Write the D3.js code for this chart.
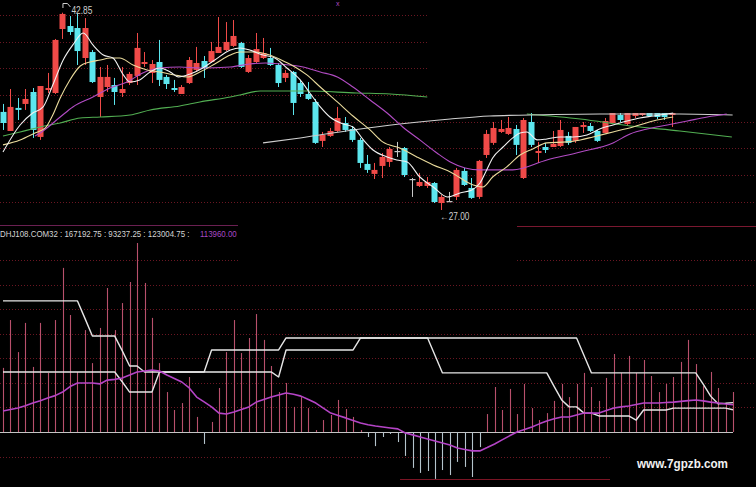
<!DOCTYPE html>
<html>
<head>
<meta charset="utf-8">
<script src="https://cdn.jsdelivr.net/npm/d3@7"></script>
<style>
  html, body { margin: 0; padding: 0; background: #000; }
  svg { display: block; }
</style>
</head>
<body>
<svg id="chart" width="756" height="487"></svg>
<script>
// ---------- price candles (one entry per session) ----------
const opens = [34.88,33.35,35.20,35.52,36.48,32.87,36.64,36.40,41.54,41.78,
  41.62,39.21,39.69,36.08,36.88,37.04,36.40,37.20,37.77,38.73,
  38.01,38.89,37.69,36.80,36.32,37.20,38.25,38.97,38.89,39.61,
  39.85,40.18,40.42,38.09,38.89,39.21,39.21,38.65,37.61,38.09,
  37.20,36.32,35.68,32.55,32.95,33.35,33.99,33.51,32.63,30.70,
  29.90,30.54,30.86,31.74,31.98,29.49,28.93,28.93,29.17,27.56,
  27.72,28.05,30.14,28.77,28.05,31.42,32.39,33.27,33.11,33.51,
  29.57,34.07,31.58,32.06,32.06,32.14,32.95,32.55,33.67,33.75,
  33.35,33.19,33.99,34.63,33.91,34.55,34.63,34.79,34.79,34.79,34.63];
const highs = [35.52,36.72,36.00,36.72,36.80,36.96,38.01,40.74,42.85,42.58,
  42.75,42.42,39.85,38.49,38.65,37.61,38.49,38.09,41.22,39.69,
  39.05,40.66,37.85,37.45,37.04,39.29,40.10,39.37,40.50,42.50,
  42.10,42.26,40.50,39.45,41.22,40.82,40.02,38.81,38.25,38.17,
  37.45,37.28,35.92,33.27,33.59,35.28,34.47,33.75,32.79,31.42,
  30.78,31.58,32.06,32.47,32.06,29.57,29.98,29.65,29.25,28.21,
  28.45,30.38,30.38,29.57,31.02,33.43,34.07,34.23,34.47,33.83,
  34.39,34.79,32.47,32.39,33.35,34.23,33.27,33.67,34.07,33.99,
  33.43,34.39,34.79,34.79,34.79,34.79,34.79,34.79,34.79,34.79,34.79];
const lows = [33.43,33.35,34.23,35.04,32.79,32.63,36.40,36.32,40.74,41.06,
  38.65,38.65,37.20,34.47,36.48,35.44,36.08,37.04,37.04,38.49,
  37.20,36.96,36.72,36.48,36.32,37.12,38.09,37.61,38.81,39.61,
  39.77,40.10,38.41,38.01,38.81,39.13,38.57,36.88,37.28,34.63,
  36.08,35.84,32.31,32.06,32.87,33.27,33.27,32.47,30.38,29.98,
  29.49,29.57,30.46,31.26,29.65,28.05,28.85,28.77,27.56,27.00,
  27.72,27.80,28.93,27.89,27.89,31.18,32.23,33.19,33.03,31.42,
  29.49,32.06,30.78,31.58,32.06,32.06,32.23,32.39,33.19,33.27,
  32.47,33.19,33.99,34.07,33.75,34.39,34.55,34.47,34.31,34.23,33.67];
const closes = [33.99,35.28,35.04,35.92,33.43,36.96,36.80,40.66,42.75,41.30,
  39.77,41.62,37.28,37.69,37.69,36.48,36.72,37.93,40.02,38.89,
  38.73,37.45,37.12,36.64,36.88,39.05,38.81,38.41,39.77,40.10,
  40.50,40.98,38.49,39.21,39.93,39.61,38.65,37.20,38.01,35.60,
  36.32,35.92,32.39,33.03,33.35,34.39,33.43,32.63,30.78,30.22,
  30.22,31.26,31.90,31.74,29.81,29.49,29.25,29.25,27.64,28.05,
  27.72,30.22,29.01,27.97,30.94,33.11,33.59,33.51,33.59,32.23,
  34.23,32.23,31.74,31.82,32.31,33.43,32.39,33.67,33.83,33.35,
  32.55,34.15,34.79,34.23,34.79,34.79,34.79,34.55,34.47,34.47,34.79];

// extreme-price annotations
const priceHighLabel = 42.85;
const priceLowLabel = 27.00;
const highSlot = 8;
const lowSlot = 59;

// ---------- average traces over the candles: [slot, price] ----------
const avgShort = [[0,31.66],[2.3,33.83],[4.0,34.79],[5.4,35.28],[6.7,37.04],[8.1,39.05],[9.4,40.26],[10.8,41.22],
  [12.1,40.26],[13.5,39.45],[14.8,39.21],[16.2,37.85],[17.1,37.28],[18.4,37.45],[19.8,38.09],[21.1,38.41],
  [22.5,38.09],[23.6,37.69],[25.2,37.93],[26.9,38.41],[28.5,39.05],[30.6,39.85],[31.9,40.02],[33.2,39.85],
  [35.0,39.45],[36.6,39.21],[38.2,38.41],[40.0,37.45],[41.3,36.40],[42.7,35.28],[44.0,34.47],[45.8,33.91],
  [47.1,33.67],[48.5,32.63],[49.8,31.82],[51.7,31.26],[53.0,31.02],[54.4,30.86],[56.1,29.65],[57.9,28.85],
  [59.8,28.05],[61.5,28.37],[63.1,28.61],[64.2,29.17],[65.1,30.22],[65.9,31.18],[67.3,32.06],[68.6,32.79],
  [69.6,33.19],[70.5,33.27],[71.9,32.63],[73.2,32.71],[75.0,32.87],[76.7,32.87],[78.6,33.03],[80.3,33.51],
  [82.1,33.83],[84.0,34.15],[85.7,34.39],[87.5,34.55],[90.2,34.79]];
const avgMid = [[0,32.23],[2.3,32.63],[4.3,33.19],[5.7,33.59],[6.7,34.63],[7.7,36.00],[9.0,37.45],[10.4,38.57],
  [11.7,38.89],[13.1,39.05],[14.4,39.21],[15.7,39.21],[17.5,38.65],[19.4,38.25],[21.1,38.09],[23.1,37.85],
  [24.8,37.69],[26.5,38.09],[28.5,38.73],[30.6,39.45],[31.9,39.69],[33.9,39.69],[35.9,39.45],[38.0,38.89],
  [39.3,38.49],[40.9,37.85],[42.7,36.88],[45.0,35.68],[47.1,34.55],[49.4,33.43],[51.1,32.47],[53.4,31.98],
  [55.7,31.26],[57.9,30.62],[60.2,30.06],[63.3,29.01],[64.6,28.85],[65.9,29.65],[67.8,30.46],[69.6,31.42],
  [71.3,31.90],[73.2,32.39],[75.9,32.47],[77.7,32.63],[79.4,32.87],[82.1,33.27],[84.8,33.67],[87.5,34.15],[90.2,34.47]];
const avgLong = [[4.3,32.95],[5.0,33.19],[7.7,34.47],[9.4,35.28],[12.1,36.08],[14.4,36.80],[16.7,37.28],[18.8,38.01],
  [21.1,38.41],[23.8,38.49],[26.5,38.41],[30.6,38.49],[33.2,38.73],[35.3,38.81],[37.3,38.73],[40.4,38.49],
  [42.7,38.09],[45.0,37.69],[47.1,36.88],[49.4,35.84],[51.7,34.79],[53.8,33.67],[56.1,32.63],[58.4,31.58],
  [60.2,30.86],[62.2,30.38],[64.2,30.22],[68.6,30.22],[73.2,31.02],[77.7,31.66],[82.1,32.39],[84.4,33.11],
  [86.7,33.51],[89.4,33.83],[92.1,34.15],[94.8,34.47],[97.4,34.71]];
const avgSlowA = [[0,32.95],[2.3,33.27],[5.0,33.67],[7.7,33.99],[10.4,34.39],[13.1,34.47],[17.1,34.63],[19.8,35.04],
  [23.8,35.36],[26.5,35.68],[30.6,36.08],[31.9,36.24],[34.6,36.56],[40.9,36.56],[47.6,36.40],[52.1,36.32],[57.1,36.08]];
const avgSlowB = [[70.5,34.71],[77.7,34.31],[84.4,33.75],[91.1,33.35],[98.1,32.87]];
const avgYear = [[35.0,32.39],[40.0,32.79],[47.1,33.43],[53.4,33.91],[60.2,34.31],[65.5,34.55],[70.9,34.63],
  [80.3,34.71],[91.1,34.71],[98.2,34.63]];

// ---------- indicator panel ----------
const indName = "DHJ108.COM32";
const indBars = [268000,468000,334000,456000,272000,456000,247000,468000,686000,489000,
  251000,426000,288000,435000,602000,426000,539000,627000,790000,623000,
  477000,288000,167000,92000,121000,230000,63000,-50000,42000,184000,
  334000,468000,330000,393000,493000,385000,276000,167000,205000,105000,
  146000,100000,8000,50000,71000,134000,96000,63000,8000,-21000,
  -59000,-21000,-8000,-42000,-100000,-150000,-171000,-163000,-196000,-159000,
  -180000,-125000,-146000,-188000,-63000,75000,188000,92000,180000,75000,
  201000,100000,50000,79000,130000,201000,146000,201000,247000,188000,
  130000,226000,326000,247000,318000,247000,301000,234000,167000,201000,
  230000,293000,385000,284000,192000,251000,184000,121000,167192.75];
const indLineB = [251000,251000,251000,251000,251000,251000,251000,251000,251000,251000,
  251000,251000,251000,251000,251000,251000,210000,167000,167000,167000,
  167000,251000,251000,251000,251000,251000,251000,251000,251000,251000,
  251000,251000,251000,251000,251000,251000,251000,230000,343000,343000,
  343000,343000,343000,343000,343000,343000,343000,343000,393000,393000,
  393000,393000,393000,393000,393000,393000,393000,393000,320000,247000,
  247000,247000,247000,247000,247000,247000,247000,247000,247000,247000,
  247000,247000,247000,247000,190000,134000,105000,105000,79000,79000,
  67000,67000,67000,67000,67000,50000,92000,92000,92000,92000,
  100000,100000,100000,100000,100000,100000,100000,100000,93237.25];
const indLineA = [548000,548000,548000,548000,548000,548000,548000,548000,548000,548000,
  548000,475000,401000,401000,401000,401000,340000,276000,276000,251000,
  251000,251000,251000,251000,251000,251000,251000,251000,343000,343000,
  343000,343000,343000,343000,343000,343000,343000,343000,393000,393000,
  393000,393000,393000,393000,393000,393000,393000,393000,393000,393000,
  393000,393000,393000,393000,393000,393000,393000,393000,393000,393000,
  393000,393000,393000,393000,393000,393000,393000,393000,393000,393000,
  393000,393000,393000,393000,393000,393000,393000,393000,320000,247000,
  247000,247000,247000,247000,247000,247000,247000,247000,247000,247000,
  247000,247000,247000,247000,200000,150000,118000,120000,123004.75];
const indAvg = [88000,94000,100000,110000,121000,131000,142000,152000,167000,190000,
  205000,205000,205000,201000,217000,220000,226000,238000,251000,255000,
  259000,255000,238000,224000,209000,184000,146000,126000,105000,79000,
  75000,84000,94000,105000,125000,136000,146000,155000,163000,158000,
  150000,136000,121000,100000,79000,69000,59000,48000,38000,30000,
  25000,21000,17000,13000,-4000,-12000,-21000,-29000,-38000,-46000,
  -54000,-67000,-73000,-79000,-79000,-65000,-50000,-33000,-16000,0,
  10000,21000,34000,46000,55000,63000,63000,71000,79000,79000,
  79000,90000,100000,105000,109000,115000,121000,121000,121000,123000,
  125000,128000,131000,134000,130000,125000,121000,117000,113960.00];

const siteMark = "www.7gpzb.com";

// ---------- drawing ----------
const W = 756, H = 487;
const svg = d3.select("#chart");
svg.append("rect").attr("width", W).attr("height", H).attr("fill", "#000");

const xK = d3.scaleLinear().domain([0, 90]).range([3, 3 + 90 * 7.43]);
const yK = d3.scaleLinear().domain([priceLowLabel, priceHighLabel]).range([210, 12.7]);
const xI = d3.scaleLinear().domain([0, indBars.length - 1]).range([3, 733]);
const yI = d3.scaleLinear().domain([0, 418000]).range([432, 332]);

const gridColor = "#6a1622";
function hline(g, y, x1, x2, color, dash, width) {
  g.append("line")
    .attr("x1", x1).attr("x2", x2)
    .attr("y1", Math.round(y) + 0.5).attr("y2", Math.round(y) + 0.5)
    .attr("stroke", color).attr("stroke-width", width || 1)
    .attr("stroke-dasharray", dash || null);
}

// upper panel grid
const gridG = svg.append("g");
d3.range(8).forEach(k => {
  const y = 15 + k * 26.67;
  hline(gridG, y, 0, k < 4 ? 427 : W, gridColor, "1,2");
});
// indicator panel grid
d3.range(9).forEach(k => {
  const y = 260 + k * 24.57;
  if (k === 7) return;
  if (k === 0) {
    hline(gridG, y, 0, 238, gridColor, "1,2");
    hline(gridG, y, 517, W, gridColor, "1,2");
  } else if (k === 8) {
    hline(gridG, y, 0, 610, gridColor, "1,2");
  } else {
    hline(gridG, y, 0, W, gridColor, "1,2");
  }
});
hline(gridG, 225, 0, 238, "#6a2052", null, 1);
hline(gridG, 226, 517, W, "#7a1830", null, 1);
hline(gridG, 479, 400, 610, "#7a1424", null, 1);

// ---------- candles ----------
const upC = "#f04a48", downC = "#5ce6ee", flatC = "#c8c8c8";
const candleG = svg.append("g");
opens.forEach((o, i) => {
  const c = closes[i];
  const col = c > o ? upC : (c < o ? downC : flatC);
  const cx = Math.round(xK(i)) + 0.5;
  candleG.append("line")
    .attr("x1", cx).attr("x2", cx)
    .attr("y1", yK(highs[i])).attr("y2", yK(lows[i]))
    .attr("stroke", col).attr("stroke-width", 1);
  const top = yK(Math.max(o, c)), bot = yK(Math.min(o, c));
  candleG.append("rect")
    .attr("x", cx - 3).attr("width", 6)
    .attr("y", top).attr("height", Math.max(1.2, bot - top))
    .attr("fill", col);
});

// ---------- average traces ----------
const traceLine = d3.line()
  .x(d => xK(d[0])).y(d => yK(d[1]))
  .curve(d3.curveMonotoneX);
const traces = [
  [avgSlowA, "#52ae52"], [avgSlowB, "#52ae52"], [avgYear, "#cfcfcf"],
  [avgLong, "#b24cc4"], [avgMid, "#eadb9c"], [avgShort, "#f2f2f2"]
];
const traceG = svg.append("g");
traces.forEach(([pts, col]) => {
  traceG.append("path").attr("d", traceLine(pts))
    .attr("fill", "none").attr("stroke", col).attr("stroke-width", 1.1);
});

// extreme markers
const labG = svg.append("g").attr("font-family", "'Liberation Sans', Arial, sans-serif")
  .attr("font-size", 10).attr("fill", "#cfcfcf");
const hx = xK(highSlot);
labG.append("path")
  .attr("d", `M${hx + 0.5},8 L${hx + 0.5},3.5 L${hx + 5},3.5 L${hx + 8},7`)
  .attr("fill", "none").attr("stroke", "#cfcfcf").attr("stroke-width", 1);
labG.append("text").attr("x", hx + 9).attr("y", 13.5)
  .attr("textLength", 21).attr("lengthAdjust", "spacingAndGlyphs")
  .text(priceHighLabel.toFixed(2));
labG.append("text").attr("x", xK(lowSlot) - 1).attr("y", 219.5)
  .attr("textLength", 29).attr("lengthAdjust", "spacingAndGlyphs")
  .text("\u2190" + priceLowLabel.toFixed(2));
svg.append("text").attr("x", 336).attr("y", 6).attr("font-size", 7)
  .attr("font-family", "Arial, sans-serif").attr("fill", "#b04cc4").text("x");

// ---------- indicator panel ----------
const indG = svg.append("g");
indG.append("line")
  .attr("x1", 0).attr("x2", 733)
  .attr("y1", yI(0) + 0.5).attr("y2", yI(0) + 0.5)
  .attr("stroke", "#c4c4c4").attr("stroke-width", 1);
indBars.forEach((v, i) => {
  const x = Math.round(xI(i)) + 0.5;
  indG.append("line")
    .attr("x1", x).attr("x2", x)
    .attr("y1", yI(0)).attr("y2", yI(v))
    .attr("stroke", v >= 0 ? "#b8506c" : "#b4c4cc")
    .attr("stroke-width", 1.1);
});
const indLine = d3.line().x((d, i) => xI(i)).y(d => yI(d));
[[indLineA, "#e6e6e6", 1.4], [indLineB, "#e6e6e6", 1.4], [indAvg, "#b444c6", 1.6]]
  .forEach(([arr, col, w]) => {
    indG.append("path").attr("d", indLine(arr))
      .attr("fill", "none").attr("stroke", col).attr("stroke-width", w)
      .attr("stroke-linejoin", "round");
  });

// indicator header (small font, stretched vertically)
const fmt = v => v.toFixed(2);
const head = [indName, fmt(indBars[indBars.length - 1]), fmt(indLineB[indLineB.length - 1]),
  fmt(indLineA[indLineA.length - 1])].join(" : ") + " :";
const headG = svg.append("g")
  .attr("font-family", "'Liberation Sans', Arial, sans-serif").attr("font-size", 7.9);
headG.append("text")
  .attr("transform", "translate(0,236.5) scale(1,1.18)")
  .attr("fill", "#d4d4d4")
  .text(head);
headG.append("text")
  .attr("transform", "translate(200,236.5) scale(1,1.18)")
  .attr("fill", "#a848c4")
  .text(fmt(indAvg[indAvg.length - 1]));

// site mark
svg.append("text").attr("x", 637).attr("y", 467.5)
  .attr("font-family", "'Liberation Sans', Arial, sans-serif").attr("font-size", 13)
  .attr("font-weight", "bold").attr("fill", "#f2f2f2")
  .attr("textLength", 91).attr("lengthAdjust", "spacingAndGlyphs")
  .text(siteMark);
</script>
</body>
</html>
